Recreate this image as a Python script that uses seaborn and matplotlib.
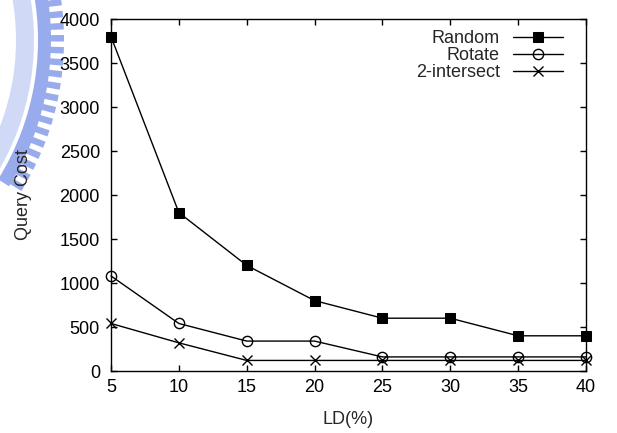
import matplotlib
matplotlib.use("Agg")
import matplotlib.pyplot as plt
from matplotlib.patches import Wedge
import numpy as np
import seaborn as sns
import pandas as pd

# Query cost versus LD percentage for three strategies
ld = [5, 10, 15, 20, 25, 30, 35, 40]
random_cost = [3800, 1800, 1200, 800, 600, 600, 400, 400]
rotate_cost = [1080, 540, 340, 340, 160, 160, 160, 160]
intersect_cost = [540, 320, 120, 120, 120, 120, 120, 120]
series_names = ["Random", "Rotate", "2-intersect"]
x_ticks = [5, 10, 15, 20, 25, 30, 35, 40]
y_ticks = [0, 500, 1000, 1500, 2000, 2500, 3000, 3500, 4000]

sns.set_style("ticks")
plt.rcParams["font.family"] = ["Liberation Sans", "DejaVu Sans"]

df = pd.DataFrame({
    "LD": ld * 3,
    "cost": random_cost + rotate_cost + intersect_cost,
    "series": [s for s in series_names for _ in ld],
})

W, H = 617, 433
fig = plt.figure(figsize=(W / 100, H / 100), dpi=100)

# faint seal in the upper-left corner, drawn in pixel units behind the chart
bg = fig.add_axes([0, 0, 1, 1], zorder=0)
bg.set_xlim(0, W)
bg.set_ylim(H, 0)
bg.axis("off")
seal = "#98abec"
cx, cy = -225, 40
bg.add_patch(Wedge((cx, cy), 259, -14, 32, width=18, color=seal, alpha=0.45, lw=0))
bg.add_patch(Wedge((cx, cy), 276, -14, 32, width=13, color=seal, lw=0))
for a in np.arange(-13, 32, 2.4):
    bg.add_patch(Wedge((cx, cy), 289, a, a + 1.3, width=14, color=seal, lw=0))

ax = fig.add_axes([111 / W, 62 / H, 475 / W, 352 / H], zorder=1)
ax.patch.set_alpha(0)

styles = {
    "Random": dict(marker="s", markersize=7.8, markerfacecolor="black", markeredgecolor="black"),
    "Rotate": dict(marker="o", markersize=7.4, markerfacecolor="none", markeredgecolor="black", markeredgewidth=1.0),
    "2-intersect": dict(marker="x", markersize=7.4, markeredgecolor="black", markeredgewidth=1.0),
}

for name in series_names:
    sub = df[df["series"] == name]
    sns.lineplot(data=sub, x="LD", y="cost", ax=ax, color="black", linewidth=1.0,
                 label=name, clip_on=False, **styles[name])

ax.set_xlim(5, 40)
ax.set_ylim(0, 4000)
ax.set_xticks(x_ticks)
ax.set_yticks(y_ticks)
ax.tick_params(direction="in", length=4.5, width=1, top=True, right=True,
               labelsize=13, colors="black")
ax.tick_params(axis="x", pad=6)
ax.tick_params(axis="y", pad=8)
ax.set_xlabel("LD(%)", fontsize=13)
ax.set_ylabel("Query Cost", fontsize=13)
ax.xaxis.label.set_va("center")
ax.yaxis.label.set_va("center")
ax.xaxis.set_label_coords((348 - 111) / 475, (371 - 419) / 352)
ax.yaxis.set_label_coords((24 - 111) / 475, 0.5)
for sp in ax.spines.values():
    sp.set_linewidth(1.0)
    sp.set_color("black")

leg = ax.legend(loc="upper right", bbox_to_anchor=((563 - 111) / 475, (371 - 30) / 352),
                frameon=False, markerfirst=False, fontsize=13,
                handlelength=2.75, labelspacing=0.0, borderaxespad=0, borderpad=0,
                handletextpad=0.75)
for t in leg.get_texts():
    t.set_ha("right")
leg._legend_box.align = "right"

fig.savefig("out.png", dpi=100)
